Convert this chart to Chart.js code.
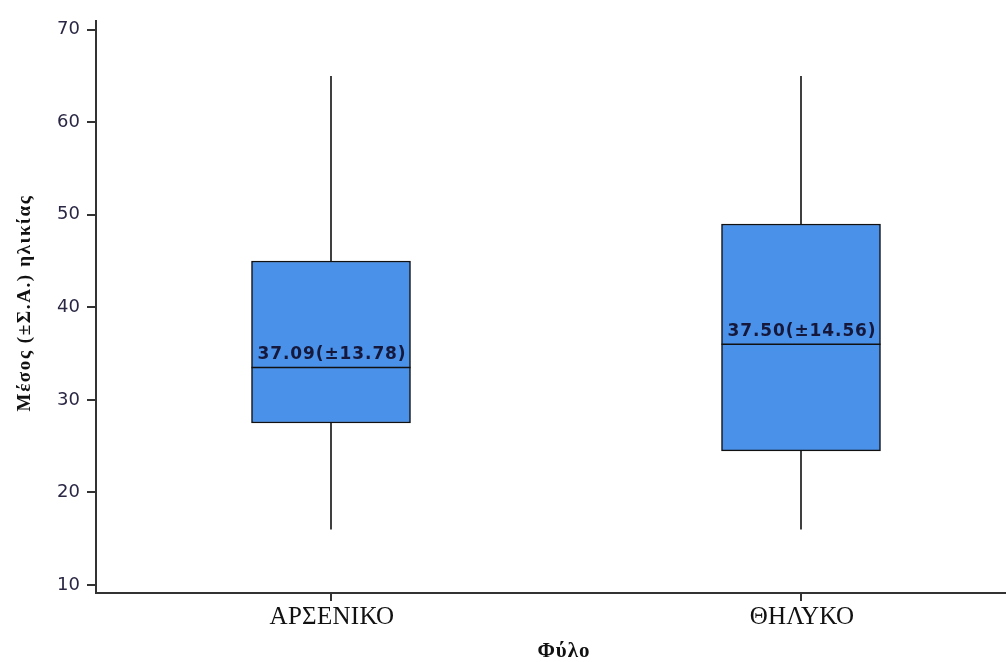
<!DOCTYPE html>
<html>
<head>
<meta charset="utf-8">
<script src="https://cdn.jsdelivr.net/npm/chart.js@4/dist/chart.umd.min.js"></script>
<style>
  html, body { margin: 0; padding: 0; background: #fff; overflow: hidden; }
  #wrap { width: 1040px; height: 662px; position: relative; }
</style>
</head>
<body>
<div id="wrap"><canvas id="c" width="1040" height="662"></canvas></div>
<script>
// Age by sex: five-number summaries plus mean and SD for each group
const categories = ['ΑΡΣΕΝΙΚΟ', 'ΘΗΛΥΚΟ'];
const whiskerLow = [16, 16];
const q1 = [27.5, 24.5];
const median = [33.5, 36];
const q3 = [45, 49];
const whiskerHigh = [65, 65];
const means = [37.09, 37.50];
const sds = [13.78, 14.56];
const yTicks = [10, 20, 30, 40, 50, 60, 70];
const xTitle = 'Φύλο';
const yTitle = 'Μέσος (±Σ.Α.) ηλικίας';

const axisColor = '#333333';

// Whiskers, median lines and the mean (±SD) captions on top of the boxes
const boxExtras = {
  id: 'boxExtras',
  afterDatasetsDraw(chart) {
    const { ctx, scales: { x, y } } = chart;
    const meta = chart.getDatasetMeta(0);
    ctx.save();
    categories.forEach((cat, i) => {
      const bar = meta.data[i];
      const cx = x.getPixelForValue(i);
      const half = bar.width / 2;
      const left = cx - half, right = cx + half;
      const yLo = y.getPixelForValue(whiskerLow[i]);
      const yQ1 = y.getPixelForValue(q1[i]);
      const yMed = y.getPixelForValue(median[i]);
      const yQ3 = y.getPixelForValue(q3[i]);
      const yHi = y.getPixelForValue(whiskerHigh[i]);

      ctx.strokeStyle = '#111';
      ctx.lineWidth = 1.6;
      ctx.beginPath();
      ctx.moveTo(cx, yHi); ctx.lineTo(cx, yQ3);
      ctx.moveTo(cx, yQ1); ctx.lineTo(cx, yLo);
      ctx.stroke();

      ctx.lineWidth = 1.5;
      ctx.beginPath();
      ctx.moveTo(left, yMed); ctx.lineTo(right, yMed);
      ctx.stroke();

      // caption, kept inside the box
      ctx.save();
      ctx.beginPath();
      ctx.rect(left, yQ3, right - left, yQ1 - yQ3);
      ctx.clip();
      ctx.font = 'bold 17px "DejaVu Sans"';
      ctx.letterSpacing = '0.9px';
      ctx.fillStyle = '#15183a';
      ctx.textAlign = 'center';
      ctx.textBaseline = 'alphabetic';
      const text = means[i].toFixed(2) + '(±' + sds[i].toFixed(2) + ')';
      ctx.fillText(text, cx + 1, yMed - 8);
      ctx.restore();
    });
    ctx.restore();
  }
};

// Category names and axis titles, set in a serif face
const axisText = {
  id: 'axisText',
  afterDraw(chart) {
    const { ctx, chartArea, scales: { x } } = chart;
    ctx.save();
    ctx.fillStyle = '#111';
    ctx.textAlign = 'center';
    ctx.textBaseline = 'middle';

    ctx.font = '25px "Liberation Serif"';
    ctx.letterSpacing = '0.3px';
    categories.forEach((cat, i) => {
      ctx.fillText(cat, x.getPixelForValue(i) + 1, x.top + 24);
    });

    ctx.font = 'bold 21px "Liberation Serif"';
    ctx.letterSpacing = '1px';
    ctx.fillText(xTitle, (chartArea.left + chartArea.right) / 2 - 2, x.top + 59);

    ctx.translate(25, 303);
    ctx.rotate(-Math.PI / 2);
    ctx.font = 'bold 19px "Liberation Serif"';
    ctx.letterSpacing = '1.6px';
    ctx.fillText(yTitle, 0, 0);
    ctx.restore();
  }
};

new Chart(document.getElementById('c'), {
  type: 'bar',
  data: {
    labels: categories,
    datasets: [{
      data: categories.map((c, i) => [q1[i], q3[i]]),
      backgroundColor: '#4a91ea',
      borderColor: '#111',
      borderWidth: 1.5,
      borderSkipped: false,
      barThickness: 159
    }]
  },
  options: {
    responsive: false,
    animation: false,
    events: [],
    layout: { padding: { top: 21, right: 4, left: 0, bottom: 0 } },
    plugins: { legend: { display: false }, tooltip: { enabled: false } },
    scales: {
      x: {
        offset: true,
        afterFit(scale) { scale.height = 69; },
        grid: {
          offset: false,
          drawOnChartArea: false,
          drawTicks: true,
          tickLength: 8,
          color: axisColor,
          lineWidth: 2
        },
        border: { display: true, color: axisColor, width: 2 },
        ticks: { display: false }
      },
      y: {
        min: 9.14,
        max: 70.93,
        afterFit(scale) { scale.width = 96; },
        afterBuildTicks(scale) { scale.ticks = yTicks.map(v => ({ value: v })); },
        grid: {
          drawOnChartArea: false,
          drawTicks: true,
          tickLength: 9,
          color: axisColor,
          lineWidth: 2
        },
        border: { display: true, color: axisColor, width: 2 },
        ticks: {
          color: '#2a2744',
          font: { family: '"DejaVu Sans"', size: 18 },
          padding: 7
        }
      }
    }
  },
  plugins: [boxExtras, axisText]
});
</script>
</body>
</html>
